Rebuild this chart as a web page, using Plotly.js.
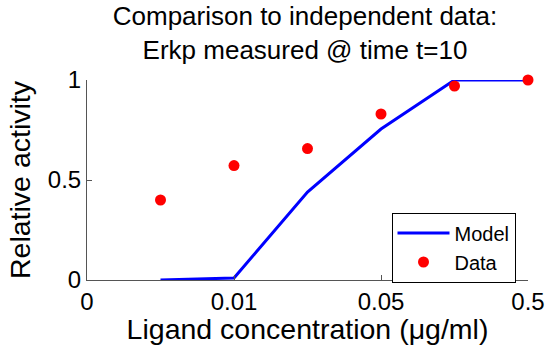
<!DOCTYPE html>
<html>
<head>
<meta charset="utf-8">
<script src="https://cdn.plot.ly/plotly-3.0.1.min.js"></script>
<style>html,body{margin:0;padding:0;background:#fff;} #chart{width:546px;height:345px;}</style>
</head>
<body>
<div id="chart"></div>
<script>
// Concentration positions (index on axis) and tick labels
const xIndex = [1, 2, 3, 4, 5, 6];
const modelValues = [0.0, 0.01, 0.44, 0.755, 1.0, 1.0];
const dataValues = [0.40, 0.572, 0.657, 0.83, 0.97, 1.0];
const xTickVals = [0, 2, 4, 6];
const xTickText = ['0', '0.01', '0.05', '0.5'];
const yTickVals = [0, 0.5, 1];
const yTickText = ['0', '0.5', '1'];

const font = 'Liberation Sans, Arial, Helvetica, sans-serif';

const traces = [
  {x: xIndex, y: modelValues, type: 'scatter', mode: 'lines', name: 'Model',
   line: {color: '#0000ff', width: 3}, cliponaxis: false},
  {x: xIndex, y: dataValues, type: 'scatter', mode: 'markers', name: 'Data',
   marker: {color: '#ff0000', size: 11}, cliponaxis: false}
];

const layout = {
  width: 546, height: 345,
  margin: {l: 87, r: 18, t: 80, b: 65},
  paper_bgcolor: '#fff', plot_bgcolor: '#fff',
  font: {family: font, color: '#000', size: 20},
  title: {text: 'Comparison to independent data:<br>Erkp measured @ time t=10',
          font: {family: font, size: 26, color: '#000'},
          x: 305 / 546, xanchor: 'center', yref: 'container', y: 1 - 25 / 345, yanchor: 'middle'},
  xaxis: {range: [0, 6], tickvals: xTickVals, ticktext: xTickText,
          showgrid: false, zeroline: false, showline: true, linecolor: '#555', linewidth: 1,
          ticks: 'inside', ticklen: 5, tickcolor: '#555',
          tickfont: {family: font, size: 24, color: '#000'},
          title: {text: 'Ligand concentration (μg/ml)', font: {family: font, size: 28.5, color: '#000'}, standoff: 2}},
  yaxis: {range: [0, 1], tickvals: yTickVals, ticktext: yTickText,
          showgrid: false, zeroline: false, showline: true, linecolor: '#555', linewidth: 1,
          ticks: 'inside', ticklen: 5, tickcolor: '#555',
          tickfont: {family: font, size: 24, color: '#000'},
          title: {text: 'Relative activity', font: {family: font, size: 28.5, color: '#000'}, standoff: 8}},
  legend: {x: (391.5 - 87) / 441, y: (280 - 212.5) / 200, xanchor: 'left', yanchor: 'top',
           bordercolor: '#000', borderwidth: 1, bgcolor: '#fff',
           font: {family: font, size: 20, color: '#000'}, tracegroupgap: 0,
           itemwidth: 52},
  showlegend: true
};

Plotly.newPlot('chart', traces, layout, {staticPlot: true, displayModeBar: false});
</script>
</body>
</html>
